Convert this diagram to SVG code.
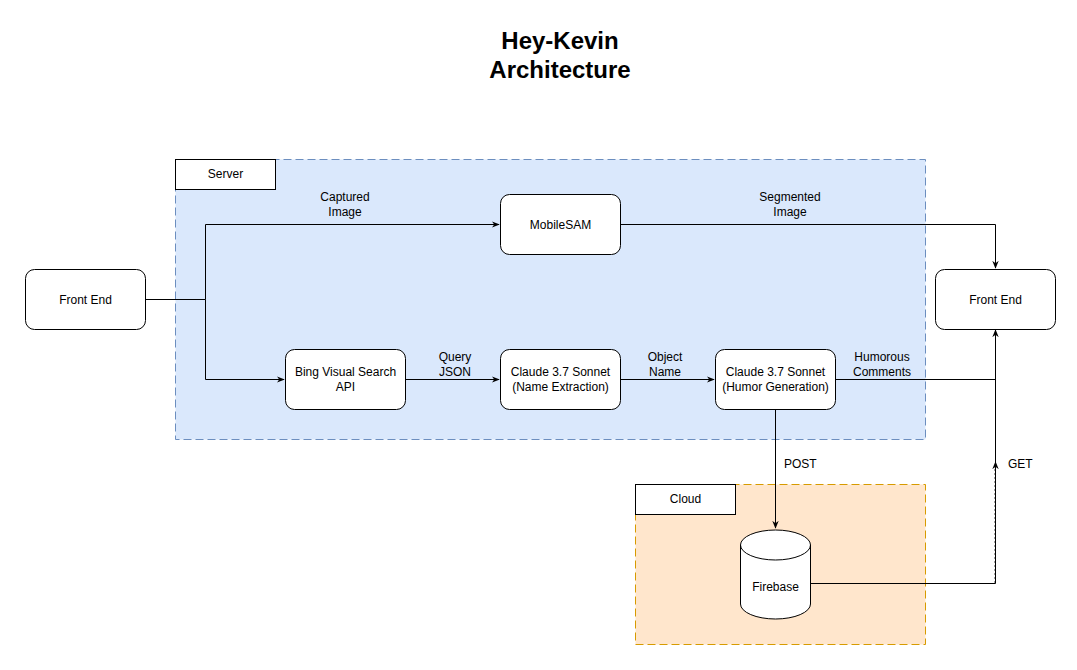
<svg xmlns="http://www.w3.org/2000/svg" width="1077" height="670" viewBox="0 0 1077 670">
<style>
text{font-family:"Liberation Sans",Arial,sans-serif;font-size:12px;fill:#000;}
.c{text-anchor:middle;}
.node{fill:#fff;stroke:#000;stroke-width:1;}
.edge{fill:none;stroke:#000;stroke-width:1;}
.title{font-size:24px;font-weight:bold;text-anchor:middle;}
</style>
<defs>
<marker id="arr" viewBox="0 0 10 10" refX="9" refY="5" markerWidth="8" markerHeight="8" markerUnits="userSpaceOnUse" orient="auto">
<path d="M0,1 L10,5 L0,9 L3,5 Z" fill="#000"/>
</marker>
</defs>
<rect width="1077" height="670" fill="#fff"/>
<g id="title">
<text class="title" x="560" y="49">Hey-Kevin</text>
<text class="title" x="560" y="78">Architecture</text>
</g>
<g id="server">
<rect x="175.5" y="159.5" width="750" height="280" fill="#dae8fc" stroke="#6c8ebf" stroke-dasharray="8 4"/>
<rect x="175.5" y="159.5" width="100" height="30" class="node"/>
<text class="c" x="225.5" y="178">Server</text>
</g>
<g id="cloud">
<rect x="635.5" y="484.5" width="290" height="160" fill="#ffe6cc" stroke="#d79b00" stroke-dasharray="8 4"/>
<rect x="635.5" y="484.5" width="100" height="30" class="node"/>
<text class="c" x="685.5" y="503">Cloud</text>
</g>
<g id="connectors">
<path class="edge" d="M145.5,299.5 H205.5 V224.5 H499" marker-end="url(#arr)"/>
<path class="edge" d="M205.5,299.5 V379.5 H284" marker-end="url(#arr)"/>
<path class="edge" d="M620.5,224.5 H995.5 V268" marker-end="url(#arr)"/>
<path class="edge" d="M405.5,379.5 H499" marker-end="url(#arr)"/>
<path class="edge" d="M620.5,379.5 H714" marker-end="url(#arr)"/>
<path class="edge" d="M835.5,379.5 H995.5 V330" marker-end="url(#arr)"/>
<path class="edge" d="M775.5,409.5 V528" marker-end="url(#arr)"/>
<path class="edge" d="M810.5,583.5 H995.5 V330"/>
<path class="edge" d="M995.5,470 V462" marker-end="url(#arr)"/>
<path d="M994.5,583 V468" fill="none" stroke="#888" stroke-width="0.8" stroke-dasharray="2 2"/>
<text class="c" x="345" y="201">Captured</text>
<text class="c" x="345" y="216">Image</text>
<text class="c" x="790" y="201">Segmented</text>
<text class="c" x="790" y="216">Image</text>
<text class="c" x="455" y="361">Query</text>
<text class="c" x="455" y="376">JSON</text>
<text class="c" x="665" y="361">Object</text>
<text class="c" x="665" y="376">Name</text>
<text class="c" x="882" y="361">Humorous</text>
<text class="c" x="882" y="376">Comments</text>
<text x="784" y="468">POST</text>
<text x="1008" y="468">GET</text>
</g>
<g id="frontend-left">
<rect x="25.5" y="269.5" width="120" height="60" rx="9" class="node"/>
<text class="c" x="85.5" y="303.5">Front End</text>
</g>
<g id="frontend-right">
<rect x="935.5" y="269.5" width="120" height="60" rx="9" class="node"/>
<text class="c" x="995.5" y="303.5">Front End</text>
</g>
<g id="mobilesam">
<rect x="500.5" y="194.5" width="120" height="60" rx="9" class="node"/>
<text class="c" x="560.5" y="228.5">MobileSAM</text>
</g>
<g id="bing">
<rect x="285.5" y="349.5" width="120" height="60" rx="9" class="node"/>
<text class="c" x="345.5" y="376">Bing Visual Search</text>
<text class="c" x="345.5" y="391">API</text>
</g>
<g id="claude-name">
<rect x="500.5" y="349.5" width="120" height="60" rx="9" class="node"/>
<text class="c" x="560.5" y="376">Claude 3.7 Sonnet</text>
<text class="c" x="560.5" y="391">(Name Extraction)</text>
</g>
<g id="claude-humor">
<rect x="715.5" y="349.5" width="120" height="60" rx="9" class="node"/>
<text class="c" x="775.5" y="376">Claude 3.7 Sonnet</text>
<text class="c" x="775.5" y="391">(Humor Generation)</text>
</g>
<g id="firebase">
<path class="node" d="M740.5,545 A35,15 0 0 1 810.5,545 V604 A35,15 0 0 1 740.5,604 Z"/>
<path class="edge" d="M740.5,545 A35,15 0 0 0 810.5,545"/>
<text class="c" x="775.5" y="591">Firebase</text>
</g>
</svg>
